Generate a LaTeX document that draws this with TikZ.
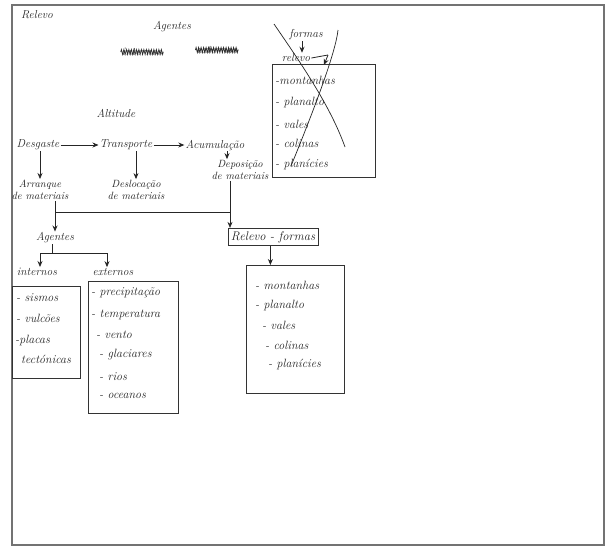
\documentclass[tikz,border=0pt]{standalone}
\usetikzlibrary{arrows.meta,decorations.pathmorphing}
\begin{document}
\begin{tikzpicture}[x=1pt,y=-1pt,
  hw/.style={inner sep=1pt, font=\fontsize{11.5}{12}\selectfont\itshape, text=black!85},
  item/.style={hw, anchor=west, font=\fontsize{12}{13}\selectfont\itshape},
  two/.style={hw, align=center, font=\fontsize{10.5}{12}\selectfont\itshape},
  box/.style={draw=black!80, line width=0.8pt},
  arr/.style={-{Stealth[length=6pt,width=5pt]}, line width=0.8pt, draw=black!85},
  ln/.style={line width=0.8pt, draw=black!85},
  scrib/.style={line width=0.7pt, draw=black!85, decorate, decoration={zigzag, segment length=2.5pt, amplitude=2.5pt}}]
\useasboundingbox (0,0) rectangle (606,547);
\fill[white] (0,0) rectangle (606,547);
\draw[black!55, line width=1.2pt] (12,5) rectangle (604,545);

% top crossed-out part
\node[hw] (relevo) at (37,15) {Relevo};
\node[hw] (agentesT) at (172,27) {Agentes};
\node[hw] (intT) at (142,52) {internos};
\node[hw] (extT) at (217,50) {externos};
\draw[scrib] (intT.west) -- (intT.east);
\draw[scrib] (extT.west) -- (extT.east);
\node[hw] (formasT) at (306,35) {formas};
\node[hw] (relevoT) at (296,58) {relevo};
\draw[arr] (formasT.south) ++(-4,0) coordinate (fa) -- (fa |- relevoT.north);
\coordinate (k1) at (328,55);
\coordinate (k2) at (324,65);
\draw[ln] (relevoT.east) -- (k1);
\draw[arr] (k1) -- (k2);
\node[box, minimum width=103pt, minimum height=113pt, anchor=north west] (boxT) at (272,64) {};
\node[item] (t1) at (274,80) {-montanhas};
\node[item] (t2) at (274,102) {- planalto};
\node[item] (t3) at (274,124) {- vales};
\node[item] (t4) at (274,143) {- colinas};
\node[item] (t5) at (274,164) {- planícies};
\coordinate (x1a) at (274,24);
\coordinate (x1b) at (345,147);
\coordinate (x2a) at (338,30);
\coordinate (x2b) at (291,166);
\draw[ln, line width=0.7pt] (x1a) .. controls (300,62) and (330,105) .. (x1b);
\draw[ln, line width=0.7pt] (x2a) .. controls (336,50) and (318,100) .. (x2b);

% process chain
\node[hw] (altitude) at (116,113) {Altitude};
\node[hw] (desgaste) at (38,145) {Desgaste};
\node[hw] (transporte) at (126,145) {Transporte};
\node[hw] (acumulacao) at (215,145) {Acumulação};
\draw[arr] (desgaste) -- (transporte);
\draw[arr] (transporte) -- (acumulacao);
\node[two] (arranque) at (40,190) {Arranque\\de materiais};
\node[two] (deslocacao) at (136,190) {Deslocação\\de materiais};
\node[two] (deposicao) at (240,170) {Deposição\\de materiais};
\draw[arr] (desgaste.south -| arranque.north) -- (arranque.north);
\draw[arr] (transporte.south -| deslocacao.north) -- (deslocacao.north);
\draw[arr] (acumulacao.south) ++(12,0) coordinate (ac) -- (ac |- deposicao.north);

% links down
\node[hw] (agentes) at (55,238) {Agentes};
\node[hw, draw=black!80, line width=0.8pt, inner sep=3pt, font=\fontsize{12.5}{13}\selectfont\itshape] (rf) at (273,237) {Relevo - formas};
\coordinate (j1) at (55,212);
\coordinate (j2) at (230,212);
\draw[ln] (arranque.south -| j1) -- (j1);
\draw[arr] (j1) -- (agentes.north);
\draw[ln] (j1) -- (j2);
\draw[arr] (deposicao.south -| j2) -- (j2 |- rf.north);

% agentes branches
\node[hw] (internos) at (37,272) {internos};
\node[hw] (externos) at (113,272) {externos};
\coordinate (f0) at (52,253);
\coordinate (fl) at (40,253);
\coordinate (fr) at (107,253);
\draw[ln] (agentes.south -| f0) -- (f0);
\draw[ln] (fl) -- (fr);
\draw[arr] (fl) -- (fl |- internos.north);
\draw[arr] (fr) -- (fr |- externos.north);

\node[box, minimum width=68pt, minimum height=92pt, anchor=north west] (boxI) at (12,286) {};
\node[item] (i1) at (15,298) {- sismos};
\node[item] (i2) at (15,318) {- vulcões};
\node[item] (i3) at (14,340) {-placas};
\node[item] (i4) at (20,359) {tectónicas};

\node[box, minimum width=90pt, minimum height=132pt, anchor=north west] (boxE) at (88,281) {};
\node[item] (e1) at (90,293) {- precipitação};
\node[item] (e2) at (90,315) {- temperatura};
\node[item] (e3) at (95,335) {- vento};
\node[item] (e4) at (98,355) {- glaciares};
\node[item] (e5) at (98,377) {- rios};
\node[item] (e6) at (98,396) {- oceanos};

% relevo-formas box
\node[box, minimum width=98pt, minimum height=128pt, anchor=north west] (boxR) at (246,265) {};
\draw[arr] (rf.south -| boxR.north) ++(-25,0) coordinate (ra) -- (ra |- boxR.north);
\node[item] (r1) at (254,285) {- montanhas};
\node[item] (r2) at (254,305) {- planalto};
\node[item] (r3) at (261,325) {- vales};
\node[item] (r4) at (264,345) {- colinas};
\node[item] (r5) at (267,364) {- planícies};
\end{tikzpicture}
\end{document}
